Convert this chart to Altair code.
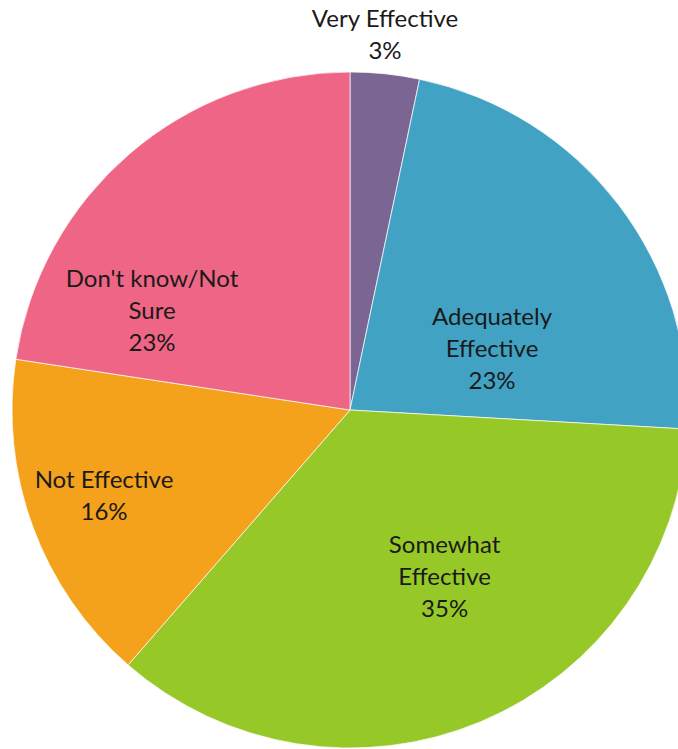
import altair as alt
import pandas as pd

categories = ["Very Effective", "Adequately Effective", "Somewhat Effective", "Not Effective", "Don't know/Not Sure"]
values = [3.3, 22.6, 35.5, 16.0, 22.6]
label_lines = [
    ["Very Effective", "3%"],
    ["Adequately", "Effective", "23%"],
    ["Somewhat", "Effective", "35%"],
    ["Not Effective", "16%"],
    ["Don't know/Not", "Sure", "23%"],
]
colors = ["#7B6592", "#41A2C4", "#96C928", "#F4A21B", "#EF6585"]

df = pd.DataFrame({
    "category": categories,
    "value": values,
    "order": list(range(len(categories))),
    "label": label_lines,
})

CX, CY, R = 350, 410, 338
# label placement: radius along slice middle + fine offsets (styling)
label_place = {
    "Very Effective": (377, -4, -15),
    "Adequately Effective": (160, 15, 5),
    "Somewhat Effective": (192, 20, -41),
    "Not Effective": (261, -1, -19),
    "Don't know/Not Sure": (204, -65, 25),
}

pie = alt.Chart(df).mark_arc(radius=R, stroke="white", strokeWidth=0.7).encode(
    theta=alt.Theta("value:Q", stack=True),
    order=alt.Order("order:Q"),
    x=alt.value(CX),
    y=alt.value(CY),
    color=alt.Color("category:N", scale=alt.Scale(domain=categories, range=colors), legend=None),
)

text_base = (
    alt.Chart(df)
    .transform_window(cum="sum(value)", sort=[alt.SortField("order")], frame=[None, 0])
    .transform_calculate(mid="datum.cum - datum.value / 2")
)

layers = [pie]
for cat in categories:
    r, dx, dy = label_place[cat]
    layers.append(
        text_base.transform_filter(alt.datum.category == cat)
        .mark_text(radius=r, dx=dx, dy=dy, font="Lato", fontSize=24, color="#1a1a1a",
                   lineHeight=32, align="center", baseline="middle")
        .encode(
            theta=alt.Theta("mid:Q", scale=alt.Scale(domain=[0, 100]), stack=None),
            x=alt.value(CX),
            y=alt.value(CY),
            text="label",
        )
    )

chart = alt.layer(*layers).properties(
    width=678, height=749,
    autosize=alt.AutoSizeParams(type="none"),
    padding=0,
).resolve_scale(theta="independent").configure_view(stroke=None)

chart.save("out.html", embed_options={"renderer": "svg", "actions": False})
